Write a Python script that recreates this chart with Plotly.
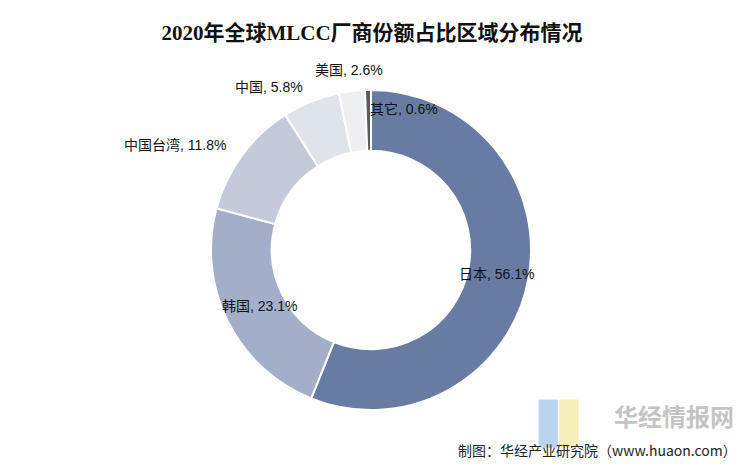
import math
import plotly.graph_objects as go

regions = ["日本", "韩国", "中国台湾", "中国", "美国", "其它"]
shares = [56.1, 23.1, 11.8, 5.8, 2.6, 0.6]
colors = ["#687CA3", "#A3AEC8", "#C3CAD9", "#DFE3EC", "#EEEFF2", "#5A5F5A"]

# label placement style: radial distance (fraction of outer radius) and anchor
label_r = [0.80, 0.78, 1.11, 1.10, 1.13, 0.88]
label_anchor = ["center", "center", "right", "right", "center", "left"]

# page body has an 8px margin, so the figure is drawn offset by 8px
OFF = 8
W, H = 743 - OFF, 466 - OFF
cx, cy, R = 371 - OFF, 250 - OFF, 160

fig = go.Figure(go.Pie(
    labels=regions,
    values=shares,
    sort=False,
    direction="clockwise",
    rotation=0,
    hole=0.62,
    marker=dict(colors=colors, line=dict(color="white", width=2)),
    textinfo="none",
    hoverinfo="label+percent",
    domain=dict(x=[(cx - R) / W, (cx + R) / W], y=[1 - (cy + R) / H, 1 - (cy - R) / H]),
    showlegend=False,
))

annotations = []
total = sum(shares)
cum = 0
for name, v, rf, anc in zip(regions, shares, label_r, label_anchor):
    mid = (cum + v / 2) / total * 2 * math.pi
    cum += v
    px = cx + rf * R * math.sin(mid)
    py = cy - rf * R * math.cos(mid)
    annotations.append(dict(
        text=f"{name}, {v}%", x=px / W, y=1 - py / H, xref="paper", yref="paper",
        xanchor=anc, yanchor="middle", showarrow=False,
        font=dict(family="Liberation Sans, Noto Sans CJK SC", size=14, color="#111")))

annotations += [
    dict(text="<b>华经情报网</b>", x=0.99, y=0.11, xref="paper", yref="paper", xanchor="right",
         yanchor="middle", showarrow=False,
         font=dict(family="Noto Sans CJK SC", size=24, color="#c4c4c4")),
    dict(text="制图：华经产业研究院（www.huaon.com）", x=0.995, y=0.035, xref="paper", yref="paper",
         xanchor="right", yanchor="middle", showarrow=False,
         font=dict(family="Noto Sans CJK SC", size=14, color="#222")),
]

fig.update_layout(
    width=W, height=H,
    margin=dict(l=0, r=0, t=0, b=0),
    paper_bgcolor="white",
    title=dict(text="<b>2020年全球MLCC厂商份额占比区域分布情况</b>", x=(372 - OFF) / W,
               y=1 - (33 - OFF) / H, xanchor="center", yanchor="middle",
               font=dict(family="Liberation Serif, Noto Sans CJK SC", size=21, color="#111")),
    shapes=[
        dict(type="rect", xref="paper", yref="paper", x0=0.722, y0=0.04, x1=0.748, y1=0.145,
             line=dict(width=0), fillcolor="#b9d3f0"),
        dict(type="rect", xref="paper", yref="paper", x0=0.75, y0=0.04, x1=0.776, y1=0.145,
             line=dict(width=0), fillcolor="#f6edb8"),
    ],
    annotations=annotations,
)

fig.write_html("out.html")
